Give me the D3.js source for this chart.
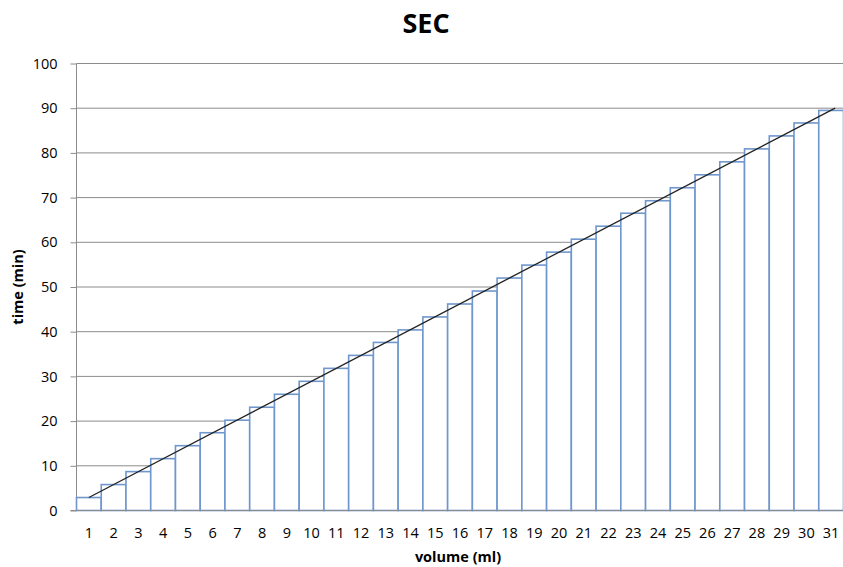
<!DOCTYPE html>
<html><head><meta charset="utf-8">
<script src="https://cdn.jsdelivr.net/npm/d3@7"></script>
<style>body{margin:0;background:#fff}svg{display:block}text{font-family:"Open Sans","Liberation Sans",sans-serif}</style>
</head><body>
<svg id="c" width="843" height="567"></svg>
<script>
const title = "SEC";
const xTitle = "volume (ml)";
const yTitle = "time (min)";
const categories = d3.range(1, 32).map(String);
const values = [2.9, 5.8, 8.7, 11.6, 14.5, 17.4, 20.2, 23.1, 26.0, 28.9, 31.8, 34.7, 37.6, 40.4, 43.3, 46.2,
  49.1, 52.0, 54.9, 57.8, 60.7, 63.6, 66.5, 69.3, 72.2, 75.1, 78.0, 80.9, 83.8, 86.7, 89.5];
const yTicks = [0, 10, 20, 30, 40, 50, 60, 70, 80, 90, 100];

const svg = d3.select("#c");
const L = 76.5, R = 843.5, T = 63.5, B = 510.5;
const FS = 14.5;
const x = d3.scaleBand().domain(categories).range([L, R]).padding(0);
const y = d3.scaleLinear().domain([0, 100]).range([B, T]);

// gridlines
svg.append("g").selectAll("line").data(yTicks.filter(d => d > 0)).join("line")
  .attr("x1", L).attr("x2", R).attr("y1", d => y(d)).attr("y2", d => y(d))
  .attr("stroke", "#8c8c8c").attr("stroke-width", 1);

// y axis
const ya = svg.append("g").attr("transform", `translate(${L},0)`)
  .call(d3.axisLeft(y).tickValues(yTicks).tickSize(6).tickPadding(13));
ya.select(".domain").attr("stroke", "#8c8c8c").attr("d", `M0,${T}V${B}`);
ya.selectAll(".tick line").attr("stroke", "#8c8c8c");
ya.selectAll("text").attr("font-size", FS).attr("fill", "#000")
  .style("font-family", "'Open Sans','Liberation Sans',sans-serif");

// bars
svg.append("g").selectAll("rect").data(values).join("rect")
  .attr("x", (d, i) => x(categories[i]))
  .attr("width", x.bandwidth())
  .attr("y", d => y(d))
  .attr("height", d => y(0) - y(d))
  .attr("fill", "#fff").attr("stroke", "#6f97cd").attr("stroke-width", 1.6);

// x axis
const xa = svg.append("g").attr("transform", `translate(0,${B})`)
  .call(d3.axisBottom(x).tickSize(0).tickPadding(17));
xa.select(".domain").attr("stroke", "#8c8c8c").attr("d", `M${L-6},0H${R}`);
xa.selectAll("text").attr("font-size", FS).attr("fill", "#000")
  .style("font-family", "'Open Sans','Liberation Sans',sans-serif");

// linear trendline from data
const n = values.length;
const xs = d3.range(1, n + 1);
const mx = d3.mean(xs), my = d3.mean(values);
const slope = d3.sum(xs, (v, i) => (v - mx) * (values[i] - my)) / d3.sum(xs, v => (v - mx) ** 2);
const icpt = my - slope * mx;
const cx = i => x(categories[i]) + x.bandwidth() / 2;
svg.append("line")
  .attr("x1", cx(0)).attr("y1", y(icpt + slope * 1))
  .attr("x2", cx(n - 1) + 4).attr("y2", y(icpt + slope * (n + 4 / x.bandwidth())))
  .attr("stroke", "#222").attr("stroke-width", 1.3);

// titles
svg.append("text").attr("x", 426).attr("y", 33).attr("text-anchor", "middle")
  .attr("font-size", 27).attr("font-weight", "bold").text(title);
svg.append("text").attr("x", 458).attr("y", 562).attr("text-anchor", "middle")
  .attr("font-size", FS).attr("font-weight", "bold").text(xTitle);
svg.append("text").attr("transform", "translate(23,287) rotate(-90)").attr("text-anchor", "middle")
  .attr("font-size", FS).attr("font-weight", "bold").text(yTitle);
</script>
</body></html>
